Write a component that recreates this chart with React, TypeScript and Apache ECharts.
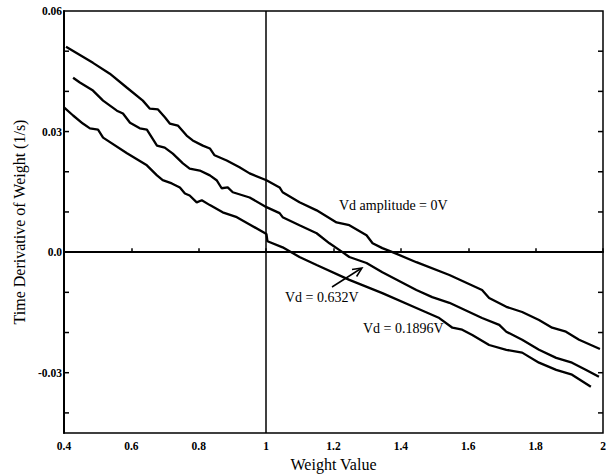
import React, { useEffect, useRef } from "react";
import * as echarts from "echarts";

// Curve data: [weight value, time derivative (1/s)]
const curve0V: [number, number][] = [
  [0.406, 0.0511], [0.486, 0.0471], [0.536, 0.0444], [0.587, 0.0409], [0.634, 0.0377],
  [0.655, 0.0357], [0.679, 0.0355], [0.7, 0.0335], [0.714, 0.032], [0.738, 0.0315],
  [0.764, 0.029], [0.782, 0.0278], [0.812, 0.0265], [0.833, 0.0258], [0.847, 0.0241],
  [0.883, 0.0228], [0.921, 0.0211], [0.951, 0.0196], [1.001, 0.0179], [1.04, 0.0161],
  [1.049, 0.0149], [1.099, 0.0124], [1.15, 0.0104], [1.209, 0.0074], [1.247, 0.0067],
  [1.298, 0.0042], [1.316, 0.0022], [1.345, 0.001], [1.375, 0.0], [1.446, -0.0025],
  [1.544, -0.0057], [1.641, -0.0094], [1.662, -0.0114], [1.713, -0.0136], [1.76, -0.0149],
  [1.81, -0.0169], [1.849, -0.0188], [1.89, -0.0198], [1.929, -0.0218], [1.991, -0.0241],
];

const curve0632V: [number, number][] = [
  [0.427, 0.0434], [0.447, 0.0422], [0.486, 0.0402], [0.516, 0.0377], [0.557, 0.0352],
  [0.575, 0.0345], [0.596, 0.0322], [0.625, 0.0308], [0.646, 0.0305], [0.661, 0.0285],
  [0.676, 0.0265], [0.699, 0.026], [0.723, 0.0245], [0.753, 0.0221], [0.773, 0.0208],
  [0.803, 0.0203], [0.833, 0.0191], [0.853, 0.0179], [0.868, 0.0159], [0.886, 0.0161],
  [0.901, 0.0149], [0.951, 0.0136], [1.001, 0.0112], [1.04, 0.0097], [1.049, 0.0087],
  [1.099, 0.0067], [1.15, 0.0047], [1.188, 0.0022], [1.218, 0.0005], [1.247, -0.0012],
  [1.298, -0.0027], [1.345, -0.005], [1.446, -0.0094], [1.493, -0.0112], [1.544, -0.0126],
  [1.641, -0.0164], [1.692, -0.0181], [1.713, -0.0198], [1.76, -0.0218], [1.81, -0.0243],
  [1.861, -0.0263], [1.908, -0.0275], [1.95, -0.0293], [1.988, -0.031],
];

const curve01896V: [number, number][] = [
  [0.4, 0.036], [0.427, 0.034], [0.456, 0.032], [0.477, 0.0308], [0.501, 0.0305],
  [0.516, 0.0285], [0.587, 0.0246], [0.646, 0.0216], [0.676, 0.0191], [0.693, 0.0179],
  [0.72, 0.0171], [0.744, 0.0161], [0.759, 0.0146], [0.773, 0.0141], [0.794, 0.0124],
  [0.809, 0.0129], [0.833, 0.0117], [0.871, 0.0099], [0.913, 0.0087], [0.951, 0.0069],
  [1.001, 0.0045], [1.004, 0.0027], [1.049, 0.0012], [1.099, -0.0012], [1.15, -0.0032],
  [1.247, -0.0069], [1.345, -0.0102], [1.446, -0.0139], [1.514, -0.0164], [1.553, -0.0188],
  [1.582, -0.0193], [1.612, -0.0206], [1.662, -0.0231], [1.713, -0.0243], [1.76, -0.025],
  [1.81, -0.0275], [1.861, -0.0293], [1.908, -0.0305], [1.964, -0.0335],
];

const xMin = 0.4;
const xMax = 2;
const xStep = 0.2;
const yMin = -0.045;
const yMax = 0.06;
const yTickValues = [-0.04, -0.03, -0.02, -0.01, 0.0, 0.01, 0.02, 0.03, 0.04, 0.05];
const yLabelValues: Record<string, string> = {
  "-30": "-0.03",
  "0": "0.0",
  "30": "0.03",
  "60": "0.06",
};

const SERIF = "Liberation Serif, Times New Roman, serif";

export default function App() {
  const ref = useRef<HTMLDivElement>(null);

  useEffect(() => {
    if (!ref.current) return;
    const chart = echarts.init(ref.current, null, { renderer: "svg" });

    const lineSeries = (name: string, data: [number, number][]) => ({
      name,
      type: "line",
      data,
      showSymbol: false,
      symbol: "none",
      lineStyle: { color: "#000", width: 2.3 },
      z: 3,
    });

    const option: any = {
      animation: false,
      backgroundColor: "#fff",
      grid: {
        left: 64,
        right: 8,
        top: 11,
        bottom: 42,
        containLabel: false,
        outerBoundsMode: "none",
        show: true,
        borderColor: "#000",
        borderWidth: 1.5,
      },
      xAxis: {
        type: "value",
        min: xMin,
        max: xMax,
        interval: xStep,
        name: "Weight Value",
        nameLocation: "middle",
        nameGap: 22,
        nameTextStyle: { fontFamily: SERIF, fontSize: 16, color: "#000" },
        axisLine: { show: true, lineStyle: { color: "#000", width: 2 } },
        axisTick: { show: true, inside: true, length: 4, lineStyle: { color: "#000", width: 1.5 } },
        axisLabel: {
          fontFamily: SERIF,
          fontSize: 11.5,
          fontWeight: "bold",
          color: "#000",
          margin: 7,
          formatter: (v: number) => String(Math.round(v * 10) / 10),
        },
        splitLine: { show: false },
      },
      yAxis: {
        type: "value",
        min: yMin,
        max: yMax,
        interval: 0.005,
        name: "Time Derivative of Weight (1/s)",
        nameLocation: "middle",
        nameGap: 37,
        nameTextStyle: { fontFamily: SERIF, fontSize: 16, color: "#000" },
        axisLine: { show: true, lineStyle: { color: "#000", width: 2 } },
        axisTick: { show: false },
        axisLabel: {
          fontFamily: SERIF,
          fontSize: 11.5,
          fontWeight: "bold",
          color: "#000",
          margin: 2,
          formatter: (v: number) => {
            const k = String(Math.round(v * 1000));
            return yLabelValues[k] ?? "";
          },
        },
        splitLine: { show: false },
      },
      graphic: [
        {
          type: "text",
          left: 339,
          top: 198,
          style: { text: "Vd amplitude = 0V", font: `14px ${SERIF}`, fill: "#000" },
        },
        {
          type: "text",
          left: 285,
          top: 290,
          style: { text: "Vd = 0.632V", font: `14px ${SERIF}`, fill: "#000" },
        },
        {
          type: "text",
          left: 363,
          top: 321,
          style: { text: "Vd = 0.1896V", font: `14px ${SERIF}`, fill: "#000" },
        },
        {
          type: "line",
          shape: { x1: 332, y1: 287, x2: 361, y2: 268.5 },
          style: { stroke: "#000", lineWidth: 1.5 },
        },
        {
          type: "polyline",
          shape: { points: [[352, 269.5], [362, 268], [356.6, 276.5]] },
          style: { stroke: "#000", lineWidth: 1.5, fill: "none" },
        },
      ],
      series: [
        lineSeries("Vd amplitude = 0V", curve0V),
        lineSeries("Vd = 0.632V", curve0632V),
        lineSeries("Vd = 0.1896V", curve01896V),
        {
          name: "crosshair",
          type: "line",
          data: [],
          markLine: {
            silent: true,
            symbol: "none",
            label: { show: false },
            lineStyle: { color: "#000", type: "solid", width: 1.5 },
            data: [{ xAxis: 1 }, { yAxis: 0 }],
          },
        },
        {
          name: "yticks",
          type: "custom",
          coordinateSystem: "cartesian2d",
          clip: false,
          silent: true,
          data: yTickValues.map((v) => [xMin, v]),
          renderItem: (params: any, api: any) => {
            const v = api.value(1);
            const pl = api.coord([xMin, v]);
            const pr = api.coord([xMax, v]);
            return {
              type: "group",
              children: [
                {
                  type: "line",
                  shape: { x1: pl[0], y1: pl[1], x2: pl[0] + 5, y2: pl[1] },
                  style: { stroke: "#000", lineWidth: 1.5 },
                },
                {
                  type: "line",
                  shape: { x1: pr[0], y1: pr[1], x2: pr[0] - 5, y2: pr[1] },
                  style: { stroke: "#000", lineWidth: 1.5 },
                },
              ],
            };
          },
        },
      ],
    };

    chart.setOption(option);
    return () => chart.dispose();
  }, []);

  return (
    <div
      ref={ref}
      style={{ position: "fixed", left: 0, top: 0, width: 611, height: 475, background: "#fff" }}
    />
  );
}
